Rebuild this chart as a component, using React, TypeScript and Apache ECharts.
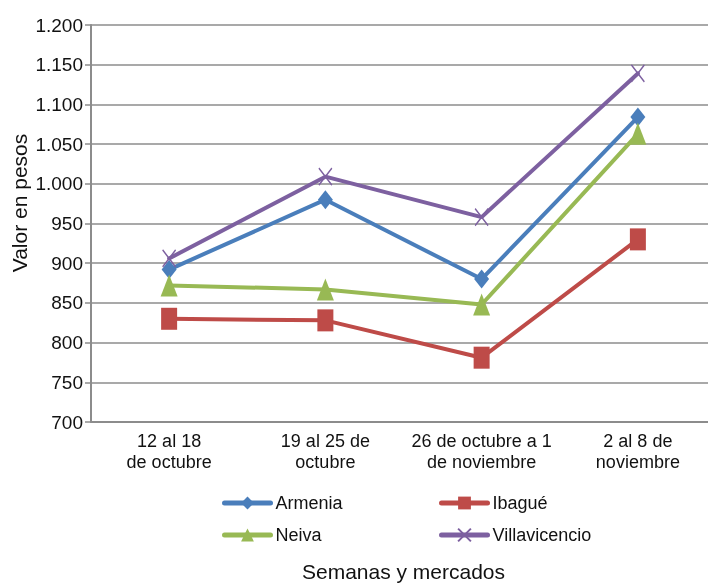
import React, { useEffect, useRef } from "react";
import * as echarts from "echarts";

const categories = ["12 al 18\nde octubre", "19 al 25 de\noctubre", "26 de octubre a 1\nde noviembre", "2 al 8 de\nnoviembre"];
const armenia = [892, 980, 880, 1084];
const ibague = [830, 828, 781, 930];
const neiva = [872, 867, 848, 1063];
const villavicencio = [906, 1009, 958, 1139];

const FONT = "Liberation Sans, Arial, sans-serif";
const xPath = "path://M0,0L10,13M10,0L0,13";

export default function App() {
  const ref = useRef<HTMLDivElement>(null);
  useEffect(() => {
    const chart = echarts.init(ref.current!, undefined, { renderer: "svg" });
    const mk = (name: string, data: number[], color: string, symbol: string, size: any, extra: any = {}) => ({
      name,
      type: "line",
      data,
      symbol,
      symbolSize: size,
      lineStyle: { color, width: 4, cap: "round" },
      itemStyle: { color, ...extra },
      emphasis: { disabled: true },
    });
    const legendBase = {
      orient: "vertical",
      top: 489,
      itemWidth: 46,
      itemHeight: 16,
      itemGap: 14,
      lineStyle: { width: 5, cap: "round" },
      textStyle: { color: "#111", fontSize: 18, fontFamily: FONT },
    };
    chart.setOption({
      animation: false,
      textStyle: { fontFamily: FONT },
      grid: { left: 91, top: 25, width: 625, height: 397, containLabel: false, outerBoundsMode: "none" },
      xAxis: {
        type: "category",
        data: categories,
        boundaryGap: true,
        axisLine: { lineStyle: { color: "#8c8c8c", width: 2 } },
        axisTick: { show: false },
        axisLabel: { color: "#111", fontSize: 18, lineHeight: 21, margin: 8, fontFamily: FONT, interval: 0 },
        name: "Semanas y mercados",
        nameLocation: "middle",
        nameGap: 139,
        nameTextStyle: { color: "#111", fontSize: 21, fontFamily: FONT },
      },
      yAxis: {
        type: "value",
        min: 700,
        max: 1200,
        interval: 50,
        axisLine: { show: true, lineStyle: { color: "#8c8c8c", width: 2 } },
        axisTick: { show: true, length: 6, lineStyle: { color: "#8c8c8c", width: 1.5 } },
        splitLine: { lineStyle: { color: "#8c8c8c", width: 1.5 } },
        axisLabel: {
          color: "#111",
          fontSize: 19,
          margin: 8,
          fontFamily: FONT,
          formatter: (v: number) => (v >= 1000 ? Math.floor(v / 1000) + "." + String(v % 1000).padStart(3, "0") : String(v)),
        },
      },
      graphic: [
        {
          type: "text",
          x: 19,
          y: 203,
          rotation: Math.PI / 2,
          style: {
            text: "Valor en pesos",
            fill: "#111",
            fontSize: 21,
            fontFamily: FONT,
            align: "center",
            verticalAlign: "middle",
          },
        },
      ],
      legend: [
        { ...legendBase, data: ["Armenia", "Neiva"], left: 217 },
        { ...legendBase, data: ["Ibagué", "Villavicencio"], left: 434 },
      ],
      series: [
        mk("Armenia", armenia, "#4a7ebb", "diamond", [15, 19]),
        mk("Ibagué", ibague, "#be4b48", "rect", [16, 22]),
        mk("Neiva", neiva, "#98b954", "triangle", [17, 22]),
        mk("Villavicencio", villavicencio, "#7d60a0", xPath, [13, 17], { borderColor: "#7d60a0", borderWidth: 1.5 }),
      ],
    });
    return () => chart.dispose();
  }, []);
  return <div ref={ref} style={{ position: "fixed", left: 0, top: 0, width: 708, height: 583 }} />;
}
